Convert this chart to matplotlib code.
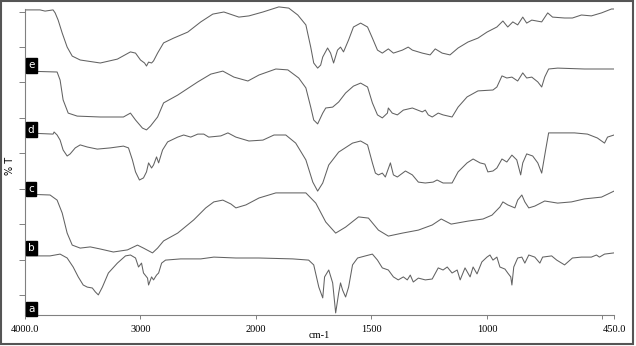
import numpy as np
import matplotlib
matplotlib.use('Agg')
import matplotlib.pyplot as plt
from matplotlib.patches import Rectangle
from matplotlib.transforms import blended_transform_factory

# wavenumbers (cm-1) and offset transmittance (a.u.)
wn_e = [4000, 3870, 3826, 3757, 3739, 3713, 3678, 3635, 3591, 3522, 3348, 3200, 3087, 3043, 3000,
        2965, 2948, 2930, 2904, 2887, 2852, 2800, 2713, 2591, 2478, 2374, 2278, 2148, 2061, 1970,
        1901, 1858, 1819, 1784, 1763, 1750, 1733, 1720, 1711, 1690, 1677, 1664, 1647, 1634, 1621,
        1599, 1578, 1547, 1517, 1496, 1474, 1453, 1427, 1405, 1366, 1341, 1323, 1280, 1246, 1224,
        1194, 1160, 1125, 1082, 1039, 1000, 957, 931, 910, 888, 867, 845, 828, 806, 763, 737, 716,
        664, 630, 591, 548, 504, 461, 450]
t_e = [101.7, 101.7, 101.3, 101.7, 100.7, 98.3, 94.0, 89.3, 86.3, 85.0, 84.0, 85.3, 87.7, 87.3, 85.0,
       84.0, 83.0, 84.3, 84.0, 84.7, 87.3, 90.7, 92.3, 94.3, 97.7, 100.3, 101.0, 99.3, 99.7, 101.0,
       102.7, 102.3, 100.0, 96.7, 89.3, 84.0, 82.3, 83.3, 86.0, 89.0, 87.3, 84.0, 88.3, 89.3, 87.7,
       91.7, 96.0, 97.3, 96.0, 92.3, 88.3, 87.3, 88.7, 87.3, 88.3, 89.3, 88.3, 87.3, 86.7, 88.7,
       87.3, 86.7, 89.0, 91.0, 92.3, 94.3, 96.0, 98.0, 96.0, 97.7, 96.7, 99.3, 97.3, 98.3, 97.7, 100.7, 99.3,
       99.0, 99.0, 100.0, 99.7, 100.7, 102.0, 102.0]

wn_d = [4000, 3722, 3696, 3670, 3626, 3548, 3348, 3148, 3087, 3043, 2983, 2948, 2913, 2852, 2800,
        2678, 2504, 2391, 2287, 2191, 2070, 1987, 1914, 1862, 1815, 1784, 1763, 1750, 1733, 1711,
        1698, 1668, 1642, 1612, 1578, 1547, 1517, 1496, 1474, 1453, 1431, 1427, 1410, 1388, 1362,
        1323, 1280, 1267, 1254, 1237, 1211, 1190, 1151, 1125, 1086, 1039, 974, 957, 935, 914, 892,
        867, 845, 828, 806, 780, 763, 750, 733, 694, 578, 450]
t_d = [81.3, 81.0, 78.3, 71.7, 67.3, 66.3, 66.0, 66.0, 67.3, 65.0, 62.3, 61.7, 63.0, 66.0, 70.7,
       73.3, 77.7, 80.3, 81.3, 79.3, 78.0, 80.0, 82.0, 81.7, 79.0, 75.7, 69.3, 65.0, 63.7, 67.3,
       69.0, 69.3, 71.0, 74.0, 76.3, 77.3, 76.0, 70.7, 66.7, 65.7, 67.3, 69.0, 67.3, 66.7, 68.3,
       69.0, 67.7, 68.3, 66.7, 66.0, 67.3, 66.7, 66.0, 69.3, 72.7, 74.7, 75.0, 76.0, 79.7, 79.0, 79.3,
       78.0, 80.7, 79.0, 79.3, 77.7, 76.0, 79.3, 82.0, 82.3, 82.0, 82.0]

wn_c = [4000, 3757, 3748, 3722, 3696, 3670, 3635, 3609, 3565, 3522, 3461, 3374, 3261, 3148, 3104,
        3070, 3043, 3009, 2974, 2948, 2930, 2904, 2887, 2861, 2843, 2809, 2765, 2678, 2626, 2565,
        2504, 2452, 2409, 2304, 2243, 2174, 2061, 1970, 1922, 1871, 1828, 1784, 1754, 1733, 1711,
        1685, 1642, 1582, 1547, 1517, 1496, 1483, 1470, 1453, 1440, 1418, 1405, 1388, 1353, 1323,
        1297, 1267, 1233, 1216, 1190, 1151, 1125, 1086, 1060, 1030, 1009, 996, 974, 957, 935, 914,
        892, 871, 854, 845, 828, 802, 780, 763, 746, 733, 694, 621, 565, 522, 491, 478, 450]
t_c = [60.7, 60.3, 61.0, 60.0, 58.3, 55.0, 53.0, 53.7, 55.7, 56.7, 56.0, 55.3, 55.7, 56.3, 55.7,
       51.7, 47.7, 45.0, 45.7, 47.7, 50.7, 49.0, 50.0, 52.7, 50.7, 55.0, 57.7, 59.3, 60.0, 59.3,
       60.3, 60.3, 59.3, 59.7, 60.7, 59.3, 58.0, 58.3, 60.0, 60.0, 57.3, 51.7, 44.3, 41.3, 44.0,
       50.0, 54.3, 57.3, 58.0, 56.7, 50.7, 47.3, 46.7, 47.3, 46.0, 50.7, 46.7, 46.0, 48.0, 46.7,
       44.3, 44.0, 44.3, 45.0, 44.0, 44.0, 47.7, 50.7, 52.0, 50.7, 50.3, 47.7, 48.0, 49.0, 52.0, 51.0,
       53.3, 51.7, 46.7, 50.7, 53.7, 53.0, 50.7, 47.3, 55.0, 60.7, 60.7, 60.7, 60.3, 59.0, 57.3, 59.3, 60.0]

wn_b = [4000, 3783, 3722, 3678, 3635, 3591, 3522, 3435, 3348, 3235, 3113, 3026, 2974, 2896, 2852,
        2800, 2678, 2539, 2435, 2365, 2287, 2217, 2174, 2087, 1987, 1914, 1841, 1784, 1741, 1698,
        1655, 1612, 1556, 1513, 1470, 1427, 1366, 1297, 1237, 1198, 1155, 1082, 1017, 978, 944, 931,
        910, 879, 867, 849, 836, 819, 793, 750, 694, 634, 578, 504, 450]
t_b = [40.3, 40.0, 38.3, 34.0, 27.3, 23.3, 22.3, 22.7, 22.0, 21.0, 21.7, 23.3, 22.3, 20.7, 22.3,
       24.7, 27.3, 31.7, 35.7, 37.7, 38.3, 37.0, 35.7, 36.7, 39.0, 40.7, 40.7, 40.7, 37.3, 31.0,
       27.3, 29.3, 32.7, 32.3, 28.3, 26.3, 27.3, 28.3, 30.0, 32.0, 30.3, 31.3, 32.0, 33.3, 36.0, 37.7,
       36.7, 35.7, 38.3, 40.0, 37.7, 35.7, 36.3, 38.0, 37.3, 37.7, 38.7, 39.3, 41.3]

wn_a = [4000, 3783, 3696, 3635, 3583, 3539, 3496, 3461, 3417, 3391, 3365, 3330, 3278, 3200, 3130,
        3087, 3043, 3017, 2991, 2974, 2939, 2930, 2904, 2887, 2861, 2843, 2817, 2783, 2652, 2478,
        2365, 2174, 1987, 1841, 1772, 1750, 1728, 1711, 1703, 1685, 1668, 1655, 1642, 1634, 1625,
        1612, 1599, 1582, 1560, 1526, 1496, 1474, 1453, 1427, 1405, 1384, 1362, 1345, 1332, 1319,
        1297, 1267, 1237, 1211, 1190, 1172, 1151, 1129, 1116, 1095, 1073, 1060, 1043, 1022, 1000,
        987, 974, 957, 944, 922, 910, 897, 892, 884, 867, 849, 836, 819, 793, 771, 759, 720, 698,
        664, 630, 591, 548, 526, 513, 491, 450]
t_a = [19.7, 19.7, 20.3, 19.0, 16.0, 12.7, 10.0, 9.3, 9.0, 7.7, 6.7, 9.3, 14.0, 17.3, 19.7,
       20.0, 19.0, 16.0, 17.3, 14.0, 12.3, 10.0, 12.7, 11.7, 13.3, 14.0, 17.3, 18.3, 18.7, 18.7,
       19.3, 19.0, 19.0, 18.7, 18.3, 16.7, 9.3, 5.7, 12.7, 15.0, 10.7, 0.7, 7.3, 10.7, 8.3,
       6.0, 9.3, 16.7, 19.0, 19.7, 20.3, 18.3, 15.7, 15.0, 12.7, 11.7, 12.7, 11.7, 13.3, 11.0,
       12.3, 11.7, 12.0, 15.7, 15.0, 16.0, 14.0, 15.0, 11.7, 15.7, 12.7, 16.0, 13.7, 17.7, 19.3,
       20.0, 18.3, 19.3, 16.0, 15.3, 14.0, 12.7, 10.0, 16.0, 19.0, 19.3, 17.3, 20.0, 19.3, 17.3, 19.3, 19.7, 18.3,
       16.7, 19.0, 19.3, 19.3, 20.0, 19.3, 20.3, 20.7]

labels = ['e', 'd', 'c', 'b', 'a']
label_y = [83.2, 61.8, 42.0, 22.3, 2.0]
xticks = [4000, 3000, 2000, 1500, 1000, 500, 450]
xticklabels = ['4000.0', '3000', '2000', '1500', '1000', '', '450.0']


# spectrometer style axis: 2x expansion below 2000 cm-1
def fwd(w):
    w = np.asarray(w, dtype=float)
    return np.where(w >= 2000, w, 2 * w - 2000)


def inv(u):
    u = np.asarray(u, dtype=float)
    return np.where(u >= 2000, u, (u + 2000) / 2)


fig = plt.figure(figsize=(6.36, 3.46), dpi=100)
ax = fig.add_axes([25 / 636, 31 / 346, 589 / 636, 312 / 346])
ax.set_xscale('function', functions=(fwd, inv))
ax.set_xlim(4000, 450)
ax.set_ylim(0, 104)

col = '#626262'
for wn, t in [(wn_e, t_e), (wn_d, t_d), (wn_c, t_c), (wn_b, t_b), (wn_a, t_a)]:
    ax.plot(wn, t, color=col, lw=0.75)

for s in ['top', 'right']:
    ax.spines[s].set_visible(False)
ax.spines['left'].set_bounds(0, 102)
for s in ['left', 'bottom']:
    ax.spines[s].set_color('#808080')
    ax.spines[s].set_linewidth(0.8)

ax.set_xticks(xticks)
ax.set_xticklabels(xticklabels, fontfamily='Liberation Serif', fontsize=7.5)
ax.xaxis.set_minor_locator(matplotlib.ticker.NullLocator())
ax.tick_params(axis='x', direction='out', length=3, width=0.7, color='#808080', pad=4)
ax.set_yticks(np.arange(6.7, 102, 11.8))
ax.set_yticklabels([])
ax.tick_params(axis='y', direction='out', length=4, width=0.7, color='#808080')

tr = blended_transform_factory(ax.transAxes, ax.transData)
for lab, y in zip(labels, label_y):
    ax.text(0.0105, y, lab, transform=tr, ha='center', va='center', color='white', fontsize=7.5,
            family='DejaVu Sans',
            bbox=dict(boxstyle='square,pad=0.22', fc='black', ec='black'))

fig.text(319 / 636, 1 - 335 / 346, 'cm-1', ha='center', va='center',
         fontfamily='Liberation Serif', fontsize=7.5)
fig.text(10 / 636, 1 - 166 / 346, '% T', ha='center', va='center', rotation=90, fontsize=7)

fig.patches.append(Rectangle((0.001, 0.005), 0.995, 0.993, transform=fig.transFigure,
                             fill=False, ec='#555555', lw=1.5))

fig.savefig('out.png', dpi=100)
